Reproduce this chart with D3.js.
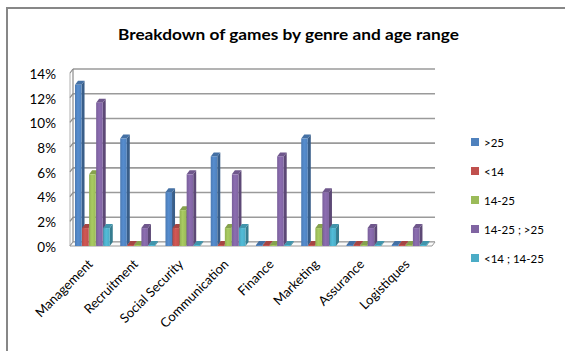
<!DOCTYPE html>
<html>
<head>
<meta charset="utf-8">
<script src="https://cdn.jsdelivr.net/npm/d3@7"></script>
<style>
  html, body { margin: 0; padding: 0; background: #fff; }
  svg { display: block; }
  text { font-family: Lato, "Open Sans", sans-serif; fill: #000; }
</style>
</head>
<body>
<svg id="chart" width="565" height="351"></svg>
<script>
// Genres along the x axis
const categories = ["Management", "Recruitment", "Social Security", "Communication",
                    "Finance", "Marketing", "Assurance", "Logistiques"];
// Age ranges (one bar per range in each genre)
const seriesNames = [">25", "<14", "14-25", "14-25 ; >25", "<14 ; 14-25"];
const seriesColors = ["#4F81BD", "#C0504D", "#9BBB59", "#8064A2", "#4BACC6"];
// Share of games (%) per age range, in genre order
const over25        = [13.04, 8.70, 4.35, 7.25, 0, 8.70, 0, 0];
const under14       = [1.45, 0, 1.45, 0, 0, 0, 0, 0];
const age14to25     = [5.80, 0, 2.90, 1.45, 0, 1.45, 0, 0];
const age14to25Over = [11.59, 1.45, 5.80, 5.80, 7.25, 4.35, 1.45, 1.45];
const under14to25   = [1.45, 0, 0, 1.45, 0, 1.45, 0, 0];
const seriesValues = [over25, under14, age14to25, age14to25Over, under14to25];
// Value axis ticks
const yTicks = [0, 2, 4, 6, 8, 10, 12, 14];

const svg = d3.select("#chart");

// depth offset of the 3D look
const dx = 3, dy = -4;

const x0 = d3.scaleBand().domain(categories).range([70, 432])
  .paddingInner(0.22).paddingOuter(0.11);
const x1 = d3.scaleBand().domain(seriesNames).range([0, x0.bandwidth()]);
const y = d3.scaleLinear().domain([0, 14]).range([246, 73]);

// gradients for bar faces
const defs = svg.append("defs");
seriesColors.forEach((c, i) => {
  const g = defs.append("linearGradient").attr("id", "front" + i)
    .attr("x1", 0).attr("x2", 1).attr("y1", 0).attr("y2", 0);
  g.append("stop").attr("offset", 0).attr("stop-color", d3.color(c).darker(0.15));
  g.append("stop").attr("offset", 0.45).attr("stop-color", d3.color(c).brighter(0.25));
  g.append("stop").attr("offset", 1).attr("stop-color", c);
});

// outer frame (top and left edges)
svg.append("path").attr("d", "M7,351 L7,8 L565,8")
  .attr("fill", "none").attr("stroke", "#878787").attr("stroke-width", 2);

// title
svg.append("text").attr("x", 288.5).attr("y", 40).attr("text-anchor", "middle")
  .attr("textLength", 341).attr("lengthAdjust", "spacingAndGlyphs")
  .style("font-size", "14.5px").style("font-weight", "bold")
  .text("Breakdown of games by genre and age range");

const xL = x0.range()[0], xR = x0.range()[1];

// back wall gridlines
svg.append("g").selectAll("line").data(yTicks).join("line")
  .attr("x1", xL + dx).attr("x2", xR + dx)
  .attr("y1", d => y(d) + dy).attr("y2", d => y(d) + dy)
  .attr("stroke", d => d === 0 ? "#a6a6a6" : "#9a9a9a")
  .attr("stroke-width", 1.6);

// left wall: edge and tick lines
svg.append("line").attr("x1", xL + dx).attr("x2", xL + dx)
  .attr("y1", y(14) + dy).attr("y2", y(0) + dy)
  .attr("stroke", "#8c8c8c").attr("stroke-width", 1.2);
svg.append("line").attr("x1", xL).attr("x2", xL)
  .attr("y1", y(14)).attr("y2", y(0))
  .attr("stroke", "#b0b0b0").attr("stroke-width", 1);
svg.append("g").selectAll("line").data(yTicks).join("line")
  .attr("x1", xL).attr("x2", xL + dx)
  .attr("y1", d => y(d)).attr("y2", d => y(d) + dy)
  .attr("stroke", "#8c8c8c").attr("stroke-width", 1.2);

// floor
svg.append("path")
  .attr("d", `M${xL},${y(0)} L${xR},${y(0)} L${xR + dx},${y(0) + dy} L${xL + dx},${y(0) + dy} Z`)
  .attr("fill", "#fafafa").attr("stroke", "#9a9a9a").attr("stroke-width", 1);

// y axis labels
const yAxis = d3.axisLeft(y).tickValues(yTicks).tickFormat(d => d + "%").tickSize(0).tickPadding(0);
const yg = svg.append("g").attr("transform", "translate(56,1)").call(yAxis);
yg.select(".domain").remove();
yg.selectAll("text").style("font-size", "13.5px").style("font-family", "Lato, sans-serif")
  .attr("fill", "#000");

// bars
const bw = x1.bandwidth() - 0.5;
const bars = [];
categories.forEach((cat, ci) => {
  seriesNames.forEach((s, si) => {
    bars.push({ cat, si, v: seriesValues[si][ci] });
  });
});
const bg = svg.append("g");
const bar = bg.selectAll("g").data(bars).join("g")
  .attr("transform", d => `translate(${x0(d.cat) + x1(seriesNames[d.si])},0)`);

const barTop = d => Math.min(y(d.v), y(0) - 1);
// side face
bar.append("path")
  .attr("d", d => `M${bw},${barTop(d)} L${bw + dx},${barTop(d) + dy} L${bw + dx},${y(0) + dy} L${bw},${y(0)} Z`)
  .attr("fill", d => d3.color(seriesColors[d.si]).darker(0.9));
// top cap
bar.append("path")
  .attr("d", d => `M0,${barTop(d)} L${dx},${barTop(d) + dy} L${bw + dx},${barTop(d) + dy} L${bw},${barTop(d)} Z`)
  .attr("fill", d => d3.color(seriesColors[d.si]).darker(0.4));
// front face
bar.append("rect")
  .attr("x", 0).attr("width", bw)
  .attr("y", d => barTop(d)).attr("height", d => y(0) - barTop(d))
  .attr("fill", d => `url(#front${d.si})`);

// x axis labels, rotated
const xg = svg.append("g");
xg.selectAll("text").data(categories).join("text")
  .attr("transform", d => `translate(${x0(d) + x0.bandwidth() / 2 + 1},${y(0) + 19}) rotate(-45)`)
  .attr("text-anchor", "end")
  .style("font-size", "13px")
  .text(d => d);

// legend
const lg = svg.append("g").attr("transform", "translate(471,142)");
const item = lg.selectAll("g").data(seriesNames).join("g")
  .attr("transform", (d, i) => `translate(0,${i * 29})`);
item.append("rect").attr("x", 0).attr("y", -4).attr("width", 8).attr("height", 8)
  .attr("fill", (d, i) => seriesColors[i]);
item.append("text").attr("x", 13).attr("y", 4.5)
  .style("font-size", "11.5px").text(d => d);
</script>
</body>
</html>
